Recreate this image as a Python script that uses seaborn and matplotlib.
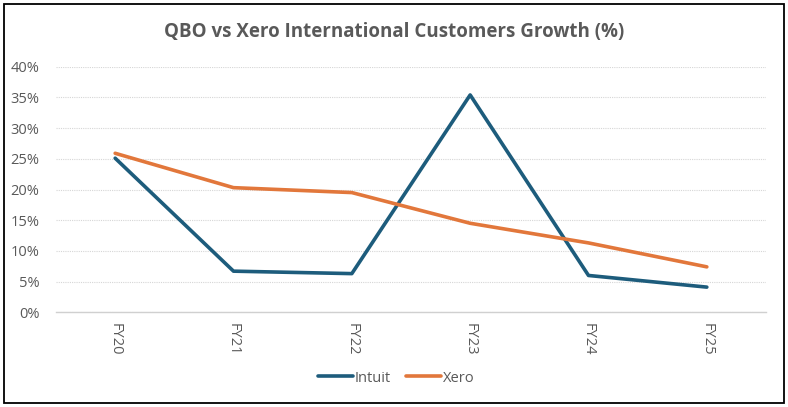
import matplotlib
matplotlib.use("Agg")
import matplotlib.pyplot as plt
import matplotlib.patches as mpatches
import seaborn as sns
import pandas as pd

# valores
years = ["FY20", "FY21", "FY22", "FY23", "FY24", "FY25"]
intuit = [25.1, 6.7, 6.3, 35.4, 6.0, 4.1]
xero = [25.9, 20.3, 19.5, 14.5, 11.3, 7.4]
yticks = [0, 5, 10, 15, 20, 25, 30, 35, 40]

df = pd.DataFrame({
    "year": years * 2,
    "growth": intuit + xero,
    "company": ["Intuit"] * len(years) + ["Xero"] * len(years),
})

sns.set_style("white")
plt.rcParams["font.family"] = ["Open Sans", "DejaVu Sans"]

fig = plt.figure(figsize=(7.88, 4.07), dpi=100)
ax = fig.add_axes([56 / 788, (407 - 312.3) / 407, 710 / 788, 245.6 / 407])

colors = {"Intuit": "#1D5C7C", "Xero": "#E2773B"}
sns.lineplot(data=df, x="year", y="growth", hue="company", palette=colors,
             linewidth=2.6, sort=False, ax=ax, legend=False)

ax.set_xlim(-0.5, len(years) - 0.5)
ax.set_ylim(0, 40)
ax.set_yticks(yticks)
ax.set_yticklabels([f"{v}%" for v in yticks], color="#595959", fontsize=10.5)
ax.set_xticks(range(len(years)))
ax.set_xticklabels(years, rotation=270, color="#595959", fontsize=10.5)
ax.tick_params(axis="y", length=0, pad=12)
ax.tick_params(axis="x", length=0, pad=8)
ax.set_xlabel("")
ax.set_ylabel("")

ax.grid(axis="y", linestyle=(0, (1, 1)), color="#D6D6D6", linewidth=0.8)
ax.grid(axis="x", visible=False)
for s in ["left", "right", "top"]:
    ax.spines[s].set_visible(False)
ax.spines["bottom"].set_color("#D0D0D0")
ax.spines["bottom"].set_linewidth(1)

fig.text(394 / 788, 1 - 32 / 407, "QBO vs Xero International Customers Growth (%)",
         ha="center", va="center", fontsize=13.5, fontweight="bold", color="#595959")

handles = [plt.Line2D([], [], color=colors[k], linewidth=2.6) for k in ["Intuit", "Xero"]]
fig.legend(handles, ["Intuit", "Xero"], loc="center", bbox_to_anchor=(396 / 788, 1 - 378 / 407),
           ncol=2, frameon=False, fontsize=10.5, handlelength=2.4, handletextpad=0.15,
           columnspacing=1.0, labelcolor="#595959")

fig.patches.append(mpatches.Rectangle((4 / 788, 4 / 407), 780 / 788, 399 / 407,
                                      transform=fig.transFigure, fill=False,
                                      edgecolor="black", linewidth=1.3))

fig.savefig("out.png", dpi=100)
